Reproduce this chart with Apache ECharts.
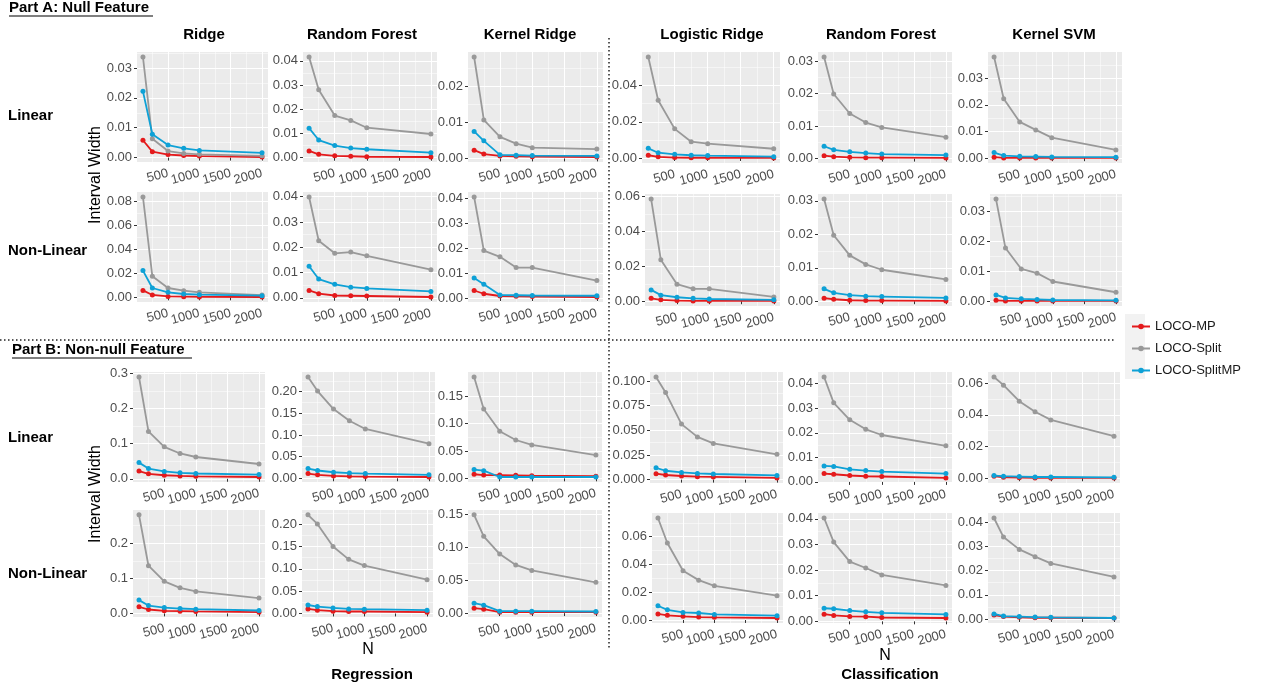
<!DOCTYPE html>
<html>
<head>
<meta charset="utf-8">
<style>
  html, body { margin: 0; padding: 0; background: #fff; }
  #main { width: 1261px; height: 687px; }
</style>
<script src="https://cdn.jsdelivr.net/npm/echarts@6/dist/echarts.min.js"></script>
</head>
<body>
<div id="main"></div>
<script>
// sample sizes (x axis) and x tick labels
const N = [100, 250, 500, 750, 1000, 2000];
const xTicks = [500, 1000, 1500, 2000];
const methods = ['LOCO-MP', 'LOCO-Split', 'LOCO-SplitMP'];
const regModels = ['Ridge', 'Random Forest', 'Kernel Ridge'];
const clsModels = ['Logistic Ridge', 'Random Forest', 'Kernel SVM'];
const rowNames = ['Linear', 'Non-Linear', 'Linear', 'Non-Linear'];

// each panel: [LOCO-MP, LOCO-Split, LOCO-SplitMP] interval widths at N
// Part A: null feature, linear
const nullLinRidge = [[0.0058, 0.0020, 0.0010, 0.0007, 0.0005, 0.0002], [0.0337, 0.0063, 0.0022, 0.0014, 0.0011, 0.0006], [0.0222, 0.0078, 0.0042, 0.0031, 0.0024, 0.0016]];
const nullLinRF = [[0.0028, 0.0014, 0.0008, 0.0006, 0.0004, 0.0003], [0.0416, 0.0281, 0.0174, 0.0154, 0.0124, 0.0098], [0.0122, 0.0073, 0.0050, 0.0040, 0.0035, 0.0021]];
const nullLinKR = [[0.0023, 0.0012, 0.0007, 0.0006, 0.0005, 0.0004], [0.0282, 0.0107, 0.0060, 0.0041, 0.0030, 0.0026], [0.0075, 0.0049, 0.0010, 0.0009, 0.0008, 0.0007]];
const nullLinLogR = [[0.0015, 0.0006, 0.0002, 0.0001, 0.0001, 0.0000], [0.0558, 0.0319, 0.0161, 0.0090, 0.0079, 0.0051], [0.0053, 0.0029, 0.0020, 0.0015, 0.0013, 0.0007]];
const nullLinRFc = [[0.0009, 0.0006, 0.0004, 0.0003, 0.0003, 0.0002], [0.0313, 0.0199, 0.0139, 0.0111, 0.0096, 0.0066], [0.0038, 0.0027, 0.0021, 0.0017, 0.0014, 0.0011]];
const nullLinSVM = [[0.0004, 0.0001, 0.0001, 0.0001, 0.0001, 0.0001], [0.0379, 0.0223, 0.0136, 0.0106, 0.0077, 0.0031], [0.0021, 0.0010, 0.0007, 0.0006, 0.0005, 0.0004]];
// Part A: null feature, non-linear
const nullNonRidge = [[0.0058, 0.0020, 0.0008, 0.0006, 0.0004, 0.0003], [0.0836, 0.0176, 0.0078, 0.0056, 0.0042, 0.0019], [0.0223, 0.0078, 0.0042, 0.0028, 0.0022, 0.0014]];
const nullNonRF = [[0.0029, 0.0016, 0.0009, 0.0008, 0.0007, 0.0003], [0.0399, 0.0226, 0.0176, 0.0181, 0.0166, 0.0111], [0.0125, 0.0074, 0.0053, 0.0042, 0.0037, 0.0025]];
const nullNonKR = [[0.0030, 0.0017, 0.0008, 0.0007, 0.0006, 0.0004], [0.0405, 0.0190, 0.0165, 0.0122, 0.0122, 0.0070], [0.0080, 0.0055, 0.0012, 0.0011, 0.0010, 0.0009]];
const nullNonLogR = [[0.0017, 0.0008, 0.0004, 0.0002, 0.0002, 0.0002], [0.0585, 0.0238, 0.0098, 0.0071, 0.0071, 0.0025], [0.0065, 0.0035, 0.0023, 0.0017, 0.0013, 0.0008]];
const nullNonRFc = [[0.0009, 0.0006, 0.0003, 0.0002, 0.0002, 0.0001], [0.0305, 0.0197, 0.0137, 0.0110, 0.0094, 0.0065], [0.0037, 0.0025, 0.0018, 0.0015, 0.0014, 0.0010]];
const nullNonSVM = [[0.0003, 0.0001, 0.0001, 0.0001, 0.0001, 0.0001], [0.0342, 0.0178, 0.0108, 0.0094, 0.0066, 0.0030], [0.0021, 0.0011, 0.0008, 0.0006, 0.0004, 0.0003]];
// Part B: non-null feature, linear
const altLinRidge = [[0.022, 0.014, 0.010, 0.008, 0.007, 0.005], [0.290, 0.135, 0.091, 0.072, 0.062, 0.042], [0.046, 0.029, 0.021, 0.017, 0.015, 0.012]];
const altLinRF = [[0.011, 0.008, 0.0055, 0.0045, 0.004, 0.003], [0.234, 0.2015, 0.160, 0.133, 0.114, 0.080], [0.0225, 0.018, 0.014, 0.012, 0.011, 0.008]];
const altLinKR = [[0.0075, 0.006, 0.006, 0.0055, 0.005, 0.004], [0.185, 0.1265, 0.086, 0.070, 0.061, 0.0425], [0.016, 0.014, 0.0025, 0.0025, 0.0025, 0.0025]];
const altLinLogR = [[0.006, 0.0047, 0.0037, 0.003, 0.0027, 0.0017], [0.104, 0.0883, 0.0563, 0.0433, 0.0367, 0.0257], [0.012, 0.009, 0.0073, 0.0063, 0.0057, 0.0043]];
const altLinRFc = [[0.0034, 0.0031, 0.0026, 0.0023, 0.0022, 0.0016], [0.0427, 0.0322, 0.0253, 0.0214, 0.0191, 0.0147], [0.0065, 0.0063, 0.0051, 0.0046, 0.0042, 0.0034]];
const altLinSVM = [[0.0013, 0.0006, 0.0004, 0.0002, 0.0002, 0.0002], [0.0638, 0.0587, 0.0486, 0.0419, 0.0368, 0.0265], [0.0017, 0.0013, 0.0011, 0.0008, 0.0008, 0.0006]];
// Part B: non-null feature, non-linear
const altNonRidge = [[0.0187, 0.0112, 0.0075, 0.0065, 0.0056, 0.0037], [0.281, 0.136, 0.0916, 0.0729, 0.0626, 0.0439], [0.038, 0.0224, 0.0168, 0.014, 0.012, 0.0084]];
const altNonRF = [[0.0103, 0.0074, 0.0051, 0.0044, 0.0044, 0.003], [0.221, 0.2007, 0.150, 0.1213, 0.1074, 0.0757], [0.019, 0.0154, 0.0125, 0.0103, 0.0096, 0.0074]];
const altNonKR = [[0.0075, 0.006, 0.0015, 0.0015, 0.0015, 0.0015], [0.149, 0.1164, 0.0896, 0.0731, 0.0647, 0.0468], [0.015, 0.012, 0.003, 0.003, 0.003, 0.0025]];
const altNonLogR = [[0.0043, 0.0033, 0.0026, 0.0021, 0.0019, 0.0014], [0.0735, 0.0555, 0.0355, 0.0287, 0.0246, 0.0175], [0.0102, 0.0073, 0.0054, 0.005, 0.004, 0.0031]];
const altNonRFc = [[0.0028, 0.0023, 0.0019, 0.0018, 0.0015, 0.0013], [0.0403, 0.0309, 0.0233, 0.0208, 0.0181, 0.014], [0.0051, 0.0049, 0.0042, 0.0037, 0.0033, 0.0027]];
const altNonSVM = [[0.0016, 0.0010, 0.0007, 0.0005, 0.0005, 0.0004], [0.0418, 0.0339, 0.0288, 0.0258, 0.0230, 0.0174], [0.0021, 0.0012, 0.0010, 0.0008, 0.0007, 0.0004]];

// y tick labels, one list per panel (row by row)
const yTickLabels = [
  ['0.00', '0.01', '0.02', '0.03'], ['0.00', '0.01', '0.02', '0.03', '0.04'], ['0.00', '0.01', '0.02'],
  ['0.00', '0.02', '0.04'], ['0.00', '0.01', '0.02', '0.03'], ['0.00', '0.01', '0.02', '0.03'],
  ['0.00', '0.02', '0.04', '0.06', '0.08'], ['0.00', '0.01', '0.02', '0.03', '0.04'], ['0.00', '0.01', '0.02', '0.03', '0.04'],
  ['0.00', '0.02', '0.04', '0.06'], ['0.00', '0.01', '0.02', '0.03'], ['0.00', '0.01', '0.02', '0.03'],
  ['0.0', '0.1', '0.2', '0.3'], ['0.00', '0.05', '0.10', '0.15', '0.20'], ['0.00', '0.05', '0.10', '0.15'],
  ['0.000', '0.025', '0.050', '0.075', '0.100'], ['0.00', '0.01', '0.02', '0.03', '0.04'], ['0.00', '0.02', '0.04', '0.06'],
  ['0.0', '0.1', '0.2'], ['0.00', '0.05', '0.10', '0.15', '0.20'], ['0.00', '0.05', '0.10', '0.15'],
  ['0.00', '0.02', '0.04', '0.06'], ['0.00', '0.01', '0.02', '0.03', '0.04'], ['0.00', '0.01', '0.02', '0.03', '0.04']
];

const panels = [
  nullLinRidge, nullLinRF, nullLinKR, nullLinLogR, nullLinRFc, nullLinSVM,
  nullNonRidge, nullNonRF, nullNonKR, nullNonLogR, nullNonRFc, nullNonSVM,
  altLinRidge, altLinRF, altLinKR, altLinLogR, altLinRFc, altLinSVM,
  altNonRidge, altNonRF, altNonKR, altNonLogR, altNonRFc, altNonSVM
];

// layout (px)
const rowTop = [[52, 192, 372, 510], [52, 194, 372, 513]];      // [regression, classification]
const rowBottom = [[162, 302, 482, 617], [163, 306, 483, 623]];
const colLeft = [
  [137, 303, 468, 642, 818, 988],
  [137, 303, 468, 645, 818, 990],
  [133, 302, 468, 650, 818, 988],
  [133, 302, 468, 652, 818, 988]
];
const colRight = [
  [268, 437, 603, 780, 952, 1122],
  [268, 437, 603, 780, 952, 1122],
  [265, 435, 602, 783, 952, 1120],
  [265, 433, 602, 783, 952, 1120]
];
const colTitleX = [204, 362, 530, 712, 881, 1054];
const rowLabelY = [116, 251, 438, 574];

const colors = ['#E41A1C', '#999999', '#0EA1D6'];
const FONT = '"Liberation Sans", Arial, Helvetica, sans-serif';
const PANEL_BG = '#EBEBEB';

function minorOf(major, lo, hi) {
  const out = [];
  const step = major[1] - major[0];
  for (let i = -1; i < major.length; i++) {
    const m = major[0] + (i + 0.5) * step;
    if (m > lo && m < hi) out.push(m);
  }
  return out;
}

const xPad = (N[N.length - 1] - N[0]) * 0.05;
const xMin = N[0] - xPad, xMax = N[N.length - 1] + xPad;
const xMinor = minorOf(xTicks, xMin, xMax);

const grid = [], xAxis = [], yAxis = [], series = [];

panels.forEach(function (vals, p) {
  const r = Math.floor(p / 6), c = p % 6;
  const side = c < 3 ? 0 : 1;
  const top = rowTop[side][r], bottom = rowBottom[side][r];
  const left = colLeft[r][c], right = colRight[r][c];
  grid.push({
    left: left, top: top, width: right - left, height: bottom - top,
    show: true, backgroundColor: PANEL_BG, borderWidth: 0
  });

  const all = vals.flat();
  const lo0 = Math.min.apply(null, all), hi0 = Math.max.apply(null, all);
  const pad = (hi0 - lo0) * 0.05;
  const lo = lo0 - pad, hi = hi0 + pad;
  const labels = yTickLabels[p];
  const yMajor = labels.map(Number);
  const yMinor = minorOf(yMajor, lo, hi);

  // major x axis
  xAxis.push({
    gridIndex: p, type: 'value', min: xMin, max: xMax,
    axisLine: { show: false },
    axisTick: { show: true, customValues: xTicks, length: 3, lineStyle: { color: '#333', width: 1 } },
    axisLabel: {
      customValues: xTicks, rotate: 15, margin: 11, color: '#4D4D4D',
      fontSize: 13, fontFamily: FONT,
      showMinLabel: true, showMaxLabel: true, hideOverlap: false, interval: 0,
      formatter: function (v) { return String(Math.round(v)); }
    },
    splitLine: { show: true, lineStyle: { color: '#fff', width: 1.1 } }
  });
  // minor x grid
  xAxis.push({
    gridIndex: p, type: 'value', min: xMin, max: xMax,
    axisLine: { show: false },
    axisTick: { show: false, customValues: xMinor },
    axisLabel: { show: false, customValues: xMinor },
    splitLine: { show: true, lineStyle: { color: '#fff', width: 0.5 } }
  });
  // major y axis
  yAxis.push({
    gridIndex: p, type: 'value', min: lo, max: hi,
    axisLine: { show: false },
    axisTick: { show: true, customValues: yMajor, length: 3, lineStyle: { color: '#333', width: 1 } },
    axisLabel: {
      customValues: yMajor, margin: 5, color: '#4D4D4D', fontSize: 13, fontFamily: FONT,
      showMinLabel: true, showMaxLabel: true, hideOverlap: false,
      formatter: function (v) {
        const k = yMajor.findIndex(function (t) { return Math.abs(t - v) < 1e-9; });
        return k < 0 ? '' : labels[k];
      }
    },
    splitLine: { show: true, lineStyle: { color: '#fff', width: 1.1 } }
  });
  // minor y grid
  yAxis.push({
    gridIndex: p, type: 'value', min: lo, max: hi, position: 'left',
    axisLine: { show: false },
    axisTick: { show: false, customValues: yMinor },
    axisLabel: { show: false, customValues: yMinor },
    splitLine: { show: true, lineStyle: { color: '#fff', width: 0.5 } }
  });

  vals.forEach(function (v, m) {
    series.push({
      type: 'line', name: methods[m],
      xAxisIndex: 2 * p, yAxisIndex: 2 * p,
      data: N.map(function (n, i) { return [n, v[i]]; }),
      symbol: 'circle', symbolSize: 5,
      lineStyle: { color: colors[m], width: 1.8 },
      itemStyle: { color: colors[m] },
      emphasis: { disabled: true },
      z: 3 + m
    });
  });
});

// text and separators
const graphic = [];
function txt(s, x, y, size, bold, align, extra) {
  const g = {
    type: 'text', x: x, y: y,
    style: {
      text: s, fill: '#000', align: align || 'center', verticalAlign: 'middle',
      font: (bold ? 'bold ' : '') + size + 'px ' + FONT
    }
  };
  return Object.assign(g, extra || {});
}
graphic.push(txt('Part A: Null Feature', 9, 8, 15, true, 'left'));
graphic.push({ type: 'line', shape: { x1: 9, y1: 16, x2: 153, y2: 16 }, style: { stroke: '#000', lineWidth: 1.2 } });
graphic.push(txt('Part B: Non-null Feature', 12, 350, 15, true, 'left'));
graphic.push({ type: 'line', shape: { x1: 12, y1: 358, x2: 192, y2: 358 }, style: { stroke: '#000', lineWidth: 1.2 } });

regModels.concat(clsModels).forEach(function (name, c) {
  graphic.push(txt(name, colTitleX[c], 35, 15, true, 'center'));
});
rowNames.forEach(function (name, r) {
  graphic.push(txt(name, 8, rowLabelY[r], 15, true, 'left'));
});
graphic.push(txt('Interval Width', 96, 175, 16, false, 'center', { rotation: Math.PI / 2 }));
graphic.push(txt('Interval Width', 96, 494, 16, false, 'center', { rotation: Math.PI / 2 }));
graphic.push(txt('N', 368, 650, 16, false, 'center'));
graphic.push(txt('Regression', 372, 675, 15, true, 'center'));
graphic.push(txt('N', 885, 656, 16, false, 'center'));
graphic.push(txt('Classification', 890, 675, 15, true, 'center'));

graphic.push({ type: 'line', shape: { x1: 0, y1: 340, x2: 1114, y2: 340 },
  style: { stroke: '#222', lineWidth: 1.5, lineDash: [1.5, 2.5] } });
graphic.push({ type: 'line', shape: { x1: 609, y1: 38, x2: 609, y2: 648 },
  style: { stroke: '#222', lineWidth: 1.5, lineDash: [1.5, 2.5] } });

// legend key background
graphic.push({ type: 'rect', shape: { x: 1125, y: 314, width: 20, height: 65 }, style: { fill: '#F2F2F2' }, z: -1 });

const chart = echarts.init(document.getElementById('main'));
chart.setOption({
  animation: false,
  textStyle: { fontFamily: FONT },
  grid: grid,
  xAxis: xAxis,
  yAxis: yAxis,
  series: series,
  graphic: graphic,
  legend: {
    data: methods, orient: 'vertical', left: 1126, top: 315,
    itemWidth: 18, itemHeight: 7, itemGap: 9,
    textStyle: { fontSize: 13, color: '#1A1A1A', fontFamily: FONT },
    selectedMode: false
  }
});
</script>
</body>
</html>
